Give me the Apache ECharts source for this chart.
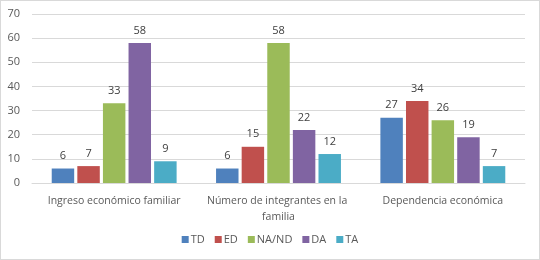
<!DOCTYPE html>
<html>
<head>
<meta charset="utf-8">
<script src="https://cdn.jsdelivr.net/npm/echarts@6/dist/echarts.min.js"></script>
<style>
  html, body { margin: 0; padding: 0; background: #fff; }
  #chart { width: 538px; height: 258px; border: 1px solid #d9d9d9; }
</style>
</head>
<body>
<div id="chart"></div>
<script>
  // categorias y valores
  var categories = ['Ingreso económico familiar', 'Número de integrantes en la familia', 'Dependencia económica'];
  var seriesNames = ['TD', 'ED', 'NA/ND', 'DA', 'TA'];
  var tdValues = [6, 6, 27];
  var edValues = [7, 15, 34];
  var nandValues = [33, 58, 26];
  var daValues = [58, 22, 19];
  var taValues = [9, 12, 7];
  var colors = ['#4F81BD', '#C0504D', '#9BBB59', '#8064A2', '#4BACC6'];

  var allValues = [tdValues, edValues, nandValues, daValues, taValues];

  var chart = echarts.init(document.getElementById('chart'));
  chart.setOption({
    animation: false,
    textStyle: { fontFamily: 'Open Sans' },
    grid: { left: 31, right: 14, top: 13, bottom: 76 },
    legend: {
      bottom: 9,
      left: 'center',
      itemWidth: 7,
      itemHeight: 7,
      itemGap: 10,
      icon: 'rect',
      textStyle: { color: '#595959', fontSize: 11, padding: [0, 0, 0, -3] },
      data: seriesNames
    },
    xAxis: {
      type: 'category',
      data: categories,
      axisLine: { lineStyle: { color: '#d9d9d9' } },
      axisTick: { show: false },
      axisLabel: {
        color: '#595959',
        fontSize: 10.5,
        interval: 0,
        margin: 10,
        width: 160,
        overflow: 'break',
        lineHeight: 16
      }
    },
    yAxis: {
      type: 'value',
      min: 0,
      max: 70,
      interval: 10,
      axisLine: { show: false },
      axisTick: { show: false },
      axisLabel: { color: '#595959', fontSize: 11, margin: 12 },
      splitLine: { lineStyle: { color: '#d9d9d9' } }
    },
    series: seriesNames.map(function (name, i) {
      return {
        name: name,
        type: 'bar',
        data: allValues[i],
        barGap: '14%',
        barCategoryGap: '24%',
        itemStyle: { color: colors[i] },
        label: {
          show: true,
          position: 'top',
          distance: 7,
          color: '#404040',
          fontSize: 11
        }
      };
    })
  });
</script>
</body>
</html>
